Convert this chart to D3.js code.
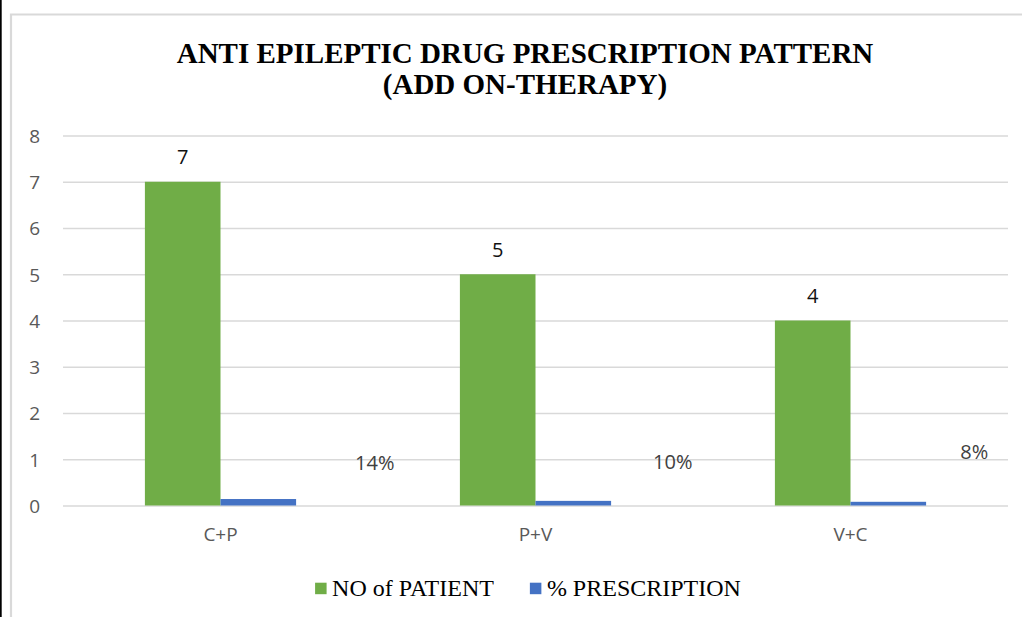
<!DOCTYPE html>
<html>
<head>
<meta charset="utf-8">
<script src="https://cdn.jsdelivr.net/npm/d3@7"></script>
<style>
  html, body { margin: 0; padding: 0; background: #fff; }
  svg { display: block; }
</style>
</head>
<body>
<svg id="chart" width="1022" height="617"></svg>
<script>
// Add-on therapy combinations
const categories = ["C+P", "P+V", "V+C"];
const seriesNames = ["NO of PATIENT", "% PRESCRIPTION"];
const patients = [7, 5, 4];
const prescriptionShare = [0.14, 0.10, 0.08];
const yTicks = [0, 1, 2, 3, 4, 5, 6, 7, 8];
const titleLines = ["ANTI EPILEPTIC DRUG PRESCRIPTION PATTERN", "(ADD ON-THERAPY)"];
const colors = ["#70AD47", "#4472C4"];

// Manual nudges (px) for the percentage labels, which sit off to the right of their bars
const pctLabelNudge = [[116.5, -21.5], [99.5, -24], [86, -34.5]];

const svg = d3.select("#chart");
const W = 1022, H = 617;
const plot = { left: 63, right: 1008, top: 135.5, bottom: 505.5 };
const sans = "'Open Sans', 'Liberation Sans', sans-serif";
const serif = "'Liberation Serif', 'Times New Roman', serif";

// Frame: dark edge on the left, light chart-area border
svg.append("rect").attr("x", 0).attr("y", 0).attr("width", W).attr("height", H).attr("fill", "#fff");
svg.append("rect").attr("x", 0).attr("y", 0).attr("width", 1.7).attr("height", H).attr("fill", "#000");
svg.append("path")
  .attr("d", `M11,${H} L11,14.5 L${W + 2},14.5`)
  .attr("fill", "none").attr("stroke", "#d9d9d9").attr("stroke-width", 2.2);

// Title
const title = svg.append("text")
  .attr("text-anchor", "middle")
  .attr("font-family", serif)
  .attr("font-weight", "bold")
  .attr("font-size", 29)
  .attr("fill", "#000");
title.selectAll("tspan").data(titleLines).join("tspan")
  .attr("x", 525)
  .attr("y", (d, i) => 63 + i * 31)
  .text(d => d);

// Scales
const x = d3.scaleBand().domain(categories).range([plot.left, plot.right]).paddingInner(0).paddingOuter(0);
const groupWidth = x.bandwidth() * 0.48;
const xInner = d3.scaleBand().domain(seriesNames).range([0, groupWidth]).padding(0);
const y = d3.scaleLinear().domain([0, 8]).range([plot.bottom, plot.top]);

// Y axis with gridlines
const yAxis = svg.append("g")
  .attr("transform", `translate(${plot.left},0)`)
  .call(d3.axisLeft(y).tickValues(yTicks).tickSize(-(plot.right - plot.left)).tickPadding(23).tickFormat(d3.format("d")));
yAxis.attr("font-family", sans).attr("font-size", 19);
yAxis.select(".domain").remove();
yAxis.selectAll(".tick line").attr("stroke", "#d9d9d9").attr("stroke-width", 1.3);
yAxis.selectAll(".tick text")
  .attr("fill", "#595959")
  .attr("dy", "0.36em");

// X axis labels
const xAxis = svg.append("g")
  .attr("transform", `translate(0,${plot.bottom})`)
  .call(d3.axisBottom(x).tickSize(0).tickPadding(22));
xAxis.attr("font-family", sans).attr("font-size", 19);
xAxis.select(".domain").remove();
xAxis.selectAll(".tick text").attr("fill", "#595959");

// Bars
const rows = categories.map((c, i) => ({ cat: c, vals: [patients[i], prescriptionShare[i]] }));
const groups = svg.append("g").selectAll("g").data(rows).join("g")
  .attr("transform", d => `translate(${x(d.cat) + (x.bandwidth() - groupWidth) / 2},0)`);

groups.selectAll("rect")
  .data(d => d.vals.map((v, k) => ({ key: seriesNames[k], v, k })))
  .join("rect")
  .attr("x", d => xInner(d.key))
  .attr("width", xInner.bandwidth())
  .attr("y", d => y(d.v))
  .attr("height", d => y(0) - y(d.v))
  .attr("fill", d => colors[d.k]);

// Value labels on the patient bars
groups.append("text")
  .attr("x", xInner(seriesNames[0]) + xInner.bandwidth() / 2)
  .attr("y", d => y(d.vals[0]) - 17.5)
  .attr("text-anchor", "middle")
  .attr("font-family", sans)
  .attr("font-size", 20)
  .attr("fill", "#111")
  .text(d => d.vals[0]);

// Percentage labels
groups.append("text")
  .attr("x", (d, i) => xInner(seriesNames[1]) + xInner.bandwidth() / 2 + pctLabelNudge[i][0])
  .attr("y", (d, i) => y(d.vals[1]) - 8 + pctLabelNudge[i][1])
  .attr("text-anchor", "middle")
  .attr("font-family", sans)
  .attr("font-size", 20)
  .attr("fill", "#404040")
  .text(d => d3.format(".0%")(d.vals[1]));

// Legend
const legend = svg.append("g");
const items = legend.selectAll("g").data(seriesNames).join("g");
items.append("rect")
  .attr("width", 11.5).attr("height", 11.5)
  .attr("y", 582.7)
  .attr("fill", (d, i) => colors[i]);
items.append("text")
  .attr("x", 17)
  .attr("y", 596)
  .attr("font-family", serif)
  .attr("font-size", 24)
  .attr("fill", "#000")
  .text(d => d);
let cursor = 0;
const positions = [];
items.each(function () {
  positions.push(cursor);
  const w = 17 + this.querySelector("text").getComputedTextLength();
  cursor += w + 36;
});
const total = cursor - 36;
const start = 528 - total / 2;
items.attr("transform", (d, i) => `translate(${start + positions[i]},0)`);
</script>
</body>
</html>
